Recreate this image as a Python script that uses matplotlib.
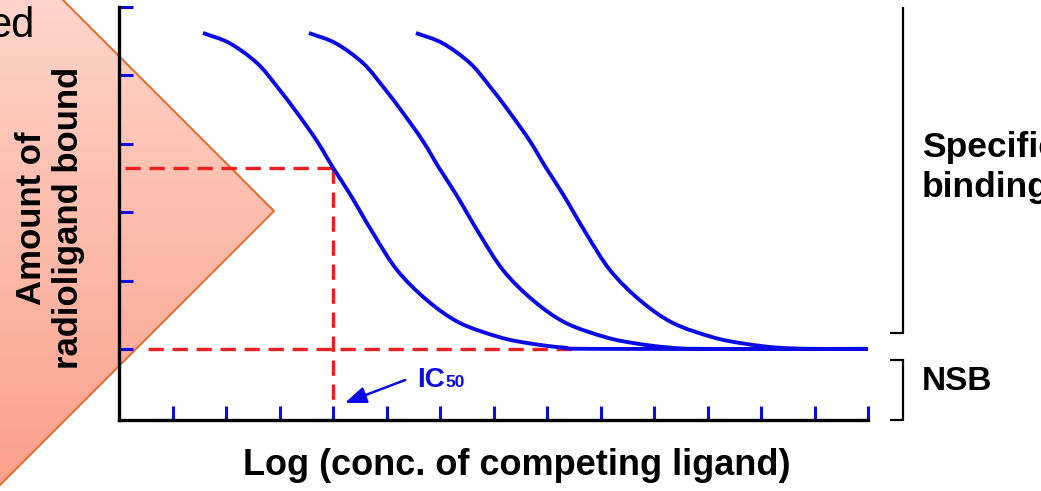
import numpy as np
import matplotlib
matplotlib.use("Agg")
import matplotlib.pyplot as plt
from matplotlib.patches import Polygon, PathPatch
from matplotlib.path import Path

plt.rcParams['font.family'] = ['Liberation Sans', 'DejaVu Sans']

# ---------------- data ----------------
curve_y = [5.62, 5.47, 5.18, 4.84, 4.45, 4.04, 3.65, 3.26, 2.69, 2.15, 1.71,
           1.38, 1.17, 1.08, 1.02, 1.00]
curve1_x = [1.57, 2.07, 2.58, 2.95, 3.33, 3.70, 4.00, 4.32, 4.75, 5.20, 5.76,
            6.37, 7.12, 7.68, 8.30, 8.99]
curve2_x = [3.55, 4.05, 4.56, 4.93, 5.31, 5.68, 5.98, 6.30, 6.73, 7.18, 7.74,
            8.35, 9.10, 9.66, 10.28, 10.97]
curve3_x = [5.55, 6.05, 6.56, 6.93, 7.31, 7.68, 7.98, 8.30, 8.73, 9.18, 9.74,
            10.35, 11.10, 11.66, 12.28, 12.97]
x_end = 14.0
nsb_level = 1.00
half_level = 3.645
ic50_x = 4.0
x_ticks = list(range(1, 15))
y_ticks = [1, 2, 3, 4, 5, 6]

BLUE = '#0a0ae6'
RED = '#f02020'

W, H = 1041, 491
fig = plt.figure(figsize=(W / 100, H / 100), dpi=100)


def smooth_path(xs, ys):
    """Catmull-Rom curve through the given points, as cubic Bezier segments."""
    p = np.column_stack([xs, ys]).astype(float)
    ext = np.vstack([p[0] - (p[1] - p[0]), p, p[-1] + (p[-1] - p[-2])])
    verts = [tuple(p[0])]
    codes = [Path.MOVETO]
    for i in range(1, len(ext) - 2):
        p0, p1, p2, p3 = ext[i - 1], ext[i], ext[i + 1], ext[i + 2]
        c1 = p1 + (p2 - p0) / 6.0
        c2 = p2 - (p3 - p1) / 6.0
        verts += [tuple(c1), tuple(c2), tuple(p2)]
        codes += [Path.CURVE4] * 3
    return Path(verts, codes)


# ---------------- background decoration (pink triangle) ----------------
bg = fig.add_axes([0, 0, 1, 1], zorder=0)
bg.set_xlim(0, W)
bg.set_ylim(H, 0)
bg.axis('off')
tri = [(274, 211), (63, 0), (0, 0), (0, 485)]
poly = Polygon(tri, closed=True, facecolor='none', edgecolor='none')
bg.add_patch(poly)
top_c = np.array([255, 212, 202]) / 255
bot_c = np.array([249, 160, 138]) / 255
t = np.linspace(0, 1, 256)[:, None]
grad = (top_c[None, :] * (1 - t) + bot_c[None, :] * t)[:, None, :]
grad = np.repeat(grad, 2, axis=1)
im = bg.imshow(grad, extent=[0, 280, H, 0], aspect='auto', zorder=1)
im.set_clip_path(poly)
bg.plot([63, 274, 0], [0, 211, 485], color='#e86a2a', lw=1.4, zorder=2)
bg.text(34, 37, 'ed', fontsize=30, ha='right', va='baseline', color='black')

# ---------------- main axes ----------------
left_px, right_px, top_px, bot_px = 119, 868, 7, 420
ax = fig.add_axes([left_px / W, 1 - bot_px / H, (right_px - left_px) / W,
                   (bot_px - top_px) / H], zorder=2)
ax.set_facecolor('none')
ax.set_xlim(0, 14)
ax.set_ylim(-0.04, 6.0)

for xs in (curve1_x, curve2_x, curve3_x):
    path = smooth_path(list(xs) + [x_end], list(curve_y) + [nsb_level])
    ax.add_patch(PathPatch(path, facecolor='none', edgecolor=BLUE, lw=2.8,
                           capstyle='butt', zorder=4, clip_on=False))

dash = dict(color=RED, lw=2.4, dashes=(4.6, 2.6), zorder=3, clip_on=False)
ax.plot([0.11, ic50_x], [half_level, half_level], **dash)
ax.plot([0.54, 8.6], [nsb_level, nsb_level], **dash)
ax.plot([ic50_x, ic50_x], [half_level, 0.22], **dash)

for s in ('top', 'right'):
    ax.spines[s].set_visible(False)
for s in ('left', 'bottom'):
    ax.spines[s].set_linewidth(2.4)
    ax.spines[s].set_color('black')
ax.set_xticks(x_ticks)
ax.set_yticks(y_ticks)
ax.tick_params(direction='in', length=10, width=2.2, color=BLUE,
               labelleft=False, labelbottom=False)

# IC50 arrow and label
ax.annotate('', xy=(4.22, 0.21), xytext=(5.35, 0.545),
            arrowprops=dict(arrowstyle='-|>,head_length=1.3,head_width=0.5',
                            color=BLUE, lw=1.8, shrinkA=0, shrinkB=0),
            annotation_clip=False)
bg.text(417, 387, 'IC', fontsize=20, color=BLUE, fontweight='bold',
        ha='left', va='baseline')
bg.text(445, 387, '50', fontsize=12.5, color=BLUE, fontweight='bold',
        ha='left', va='baseline')

# ---------------- brackets on the right ----------------
bk = dict(color='black', lw=1.6, solid_capstyle='butt', solid_joinstyle='miter')
bg.plot([903, 903, 890], [7, 333, 333], **bk)
bg.plot([890, 903, 903, 890], [360, 360, 420, 420], **bk)
bg.text(922, 157, 'Specific', fontsize=25.5, fontweight='bold',
        ha='left', va='baseline', color='black')
bg.text(922, 197, 'binding', fontsize=25.5, fontweight='bold',
        ha='left', va='baseline', color='black')
bg.text(922, 390, 'NSB', fontsize=24, fontweight='bold', ha='left',
        va='baseline', color='black')

# ---------------- axis labels ----------------
bg.text(517, 475, 'Log (conc. of competing ligand)', fontsize=26,
        fontweight='bold', ha='center', va='baseline', color='black')
bg.text(50, 218, 'Amount of\nradioligand bound', fontsize=25,
        fontweight='bold', rotation=90, ha='center', va='center',
        multialignment='center', linespacing=1.15, color='black')

fig.savefig('out.png', dpi=100)
